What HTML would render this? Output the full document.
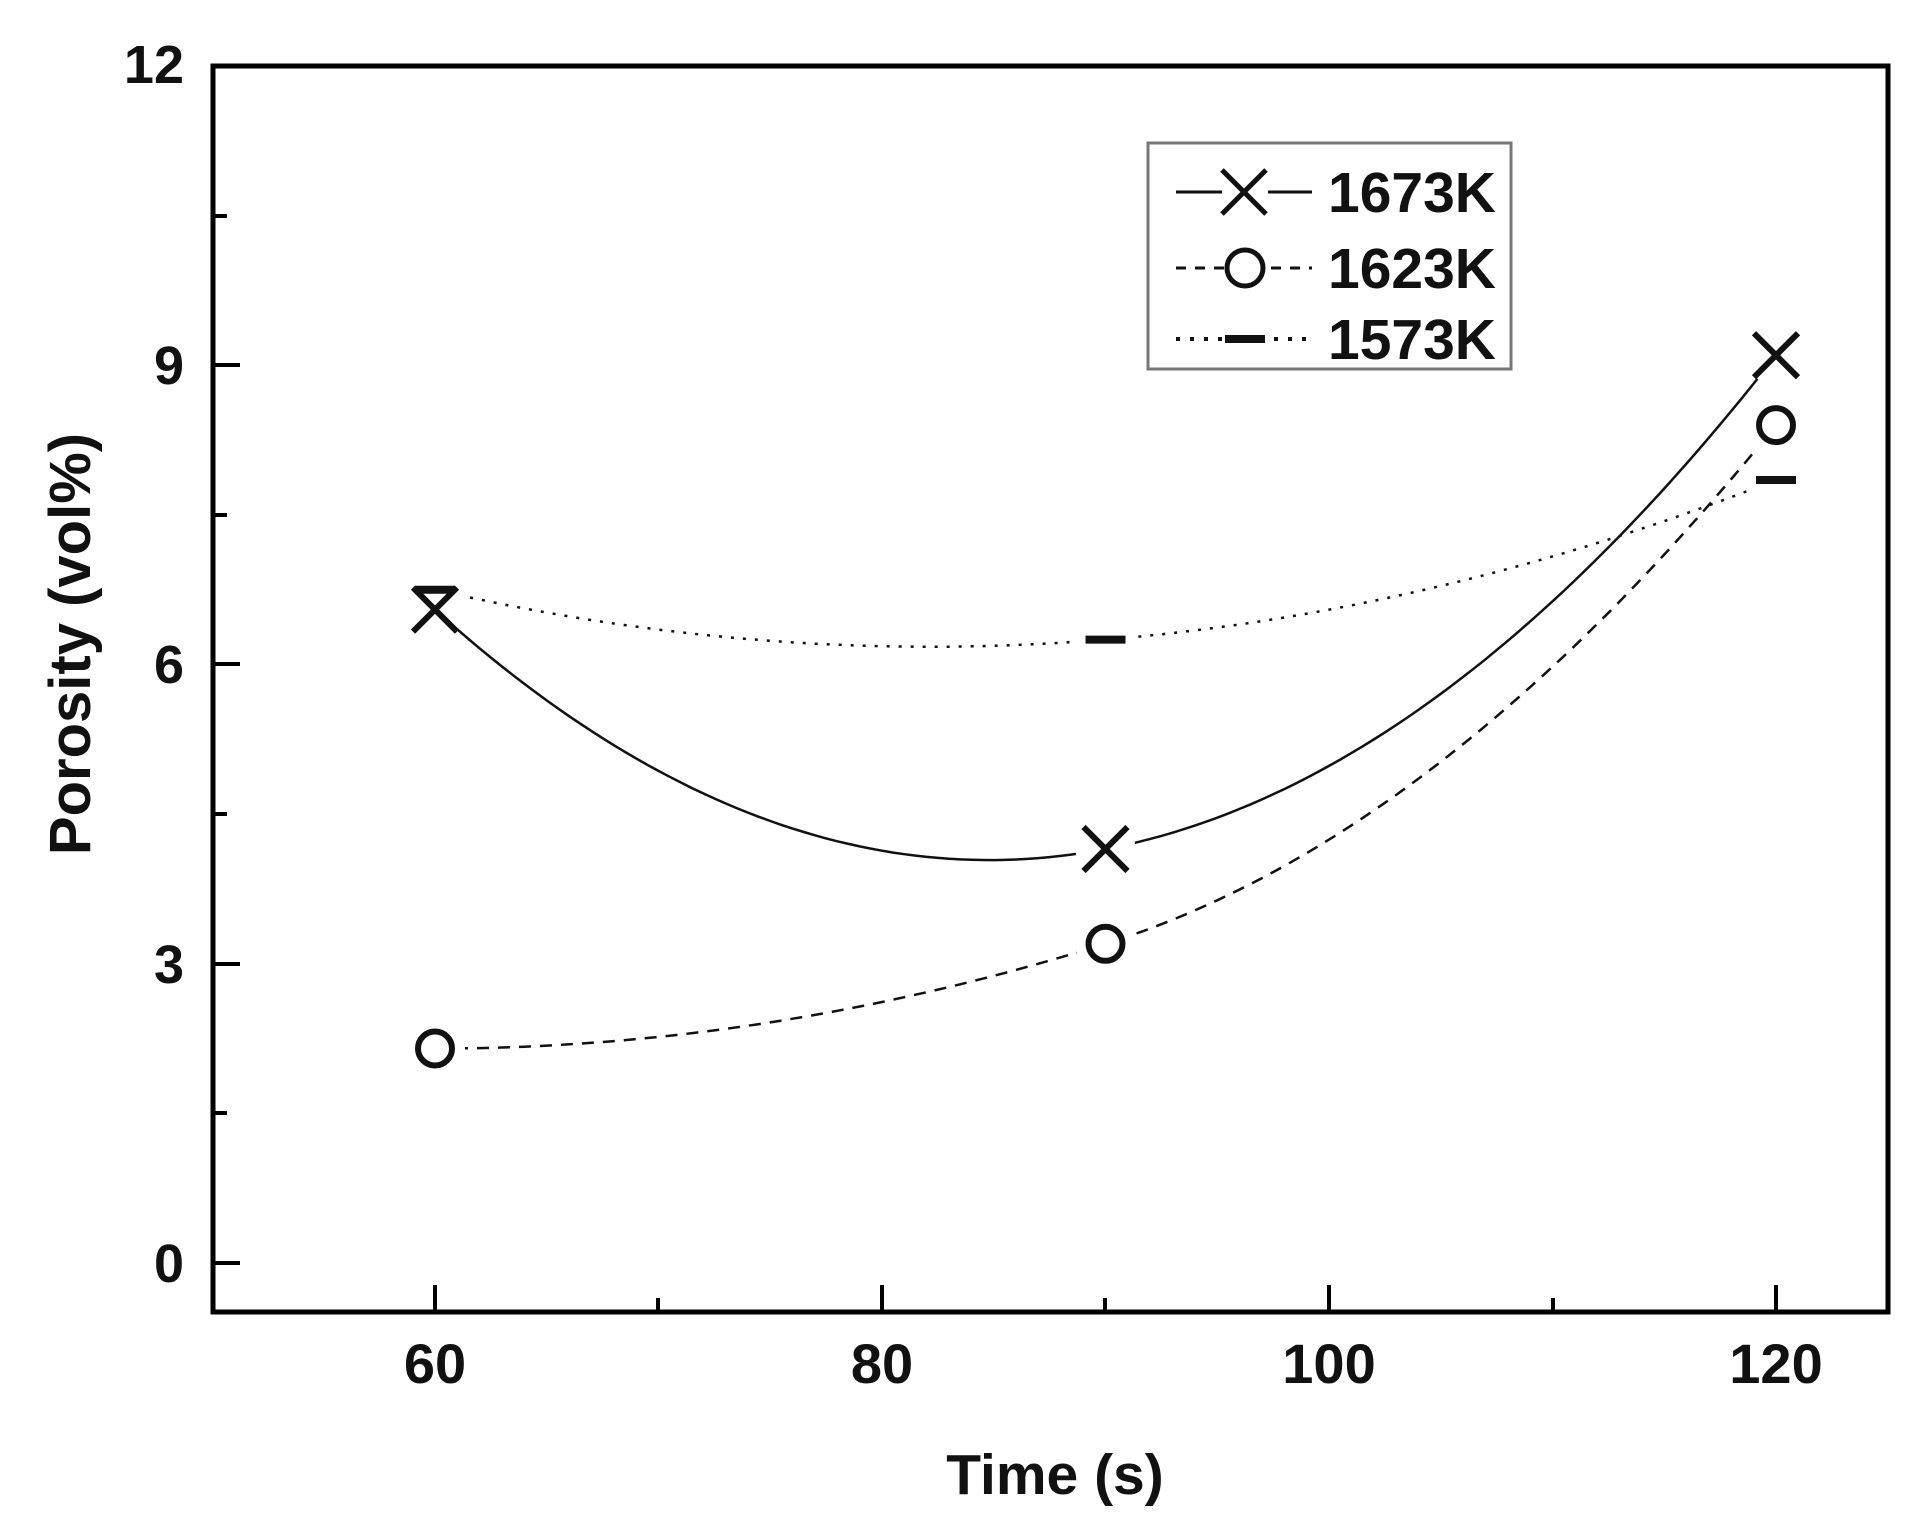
<!DOCTYPE html>
<html><head><meta charset="utf-8"><style>
html,body{margin:0;padding:0;background:#fff;}
svg{display:block;}
text{font-family:"Liberation Sans",Arial,sans-serif;font-weight:bold;fill:#111;}
</style></head><body>
<svg id="s" width="1931" height="1535" viewBox="0 0 1931 1535" xmlns="http://www.w3.org/2000/svg">
<rect width="1931" height="1535" fill="#fff"/>
<g id="curves" fill="none" stroke="#111"></g>
<g id="marks"></g>
<rect x="213" y="66" width="1675" height="1246" fill="none" stroke="#000" stroke-width="5"/>
<g stroke="#000" stroke-width="4">
<line x1="435" y1="1312" x2="435" y2="1285"/><line x1="882" y1="1312" x2="882" y2="1285"/>
<line x1="1329" y1="1312" x2="1329" y2="1285"/><line x1="1776" y1="1312" x2="1776" y2="1285"/>
<line x1="658" y1="1312" x2="658" y2="1298"/><line x1="1105" y1="1312" x2="1105" y2="1298"/><line x1="1553" y1="1312" x2="1553" y2="1298"/>
<line x1="213" y1="1263" x2="240" y2="1263"/><line x1="213" y1="964" x2="240" y2="964"/>
<line x1="213" y1="664" x2="240" y2="664"/><line x1="213" y1="365" x2="240" y2="365"/>
<line x1="213" y1="1113" x2="227" y2="1113"/><line x1="213" y1="814" x2="227" y2="814"/>
<line x1="213" y1="515" x2="227" y2="515"/><line x1="213" y1="216" x2="227" y2="216"/>
</g>
<g font-size="56" text-anchor="middle">
<text x="435" y="1383">60</text><text x="882" y="1383">80</text>
<text x="1329" y="1383">100</text><text x="1776" y="1383">120</text>
</g>
<g font-size="54" text-anchor="end">
<text x="184" y="1282">0</text><text x="184" y="983">3</text>
<text x="184" y="683">6</text><text x="184" y="384">9</text><text x="184" y="83">12</text>
</g>
<text x="1055" y="1494" font-size="57" text-anchor="middle">Time (s)</text>
<text transform="translate(90,644) rotate(-90)" font-size="58" text-anchor="middle">Porosity (vol%)</text>
<rect x="1148" y="143" width="363" height="226" fill="#fff" stroke="#777" stroke-width="3"/>
<g stroke="#111">
<line x1="1176" y1="192" x2="1222" y2="192" stroke-width="3"/><line x1="1268" y1="192" x2="1312" y2="192" stroke-width="3"/>
<line x1="1222" y1="170" x2="1266" y2="214" stroke-width="5"/><line x1="1266" y1="170" x2="1222" y2="214" stroke-width="5"/>
<line x1="1176" y1="268" x2="1312" y2="268" stroke-width="3" stroke-dasharray="10,9"/>
<circle cx="1245" cy="268" r="18" fill="#fff" stroke-width="5"/>
<line x1="1176" y1="339" x2="1312" y2="339" stroke-width="4" stroke-dasharray="4,10"/>
<line x1="1225" y1="339" x2="1265" y2="339" stroke-width="8"/>
</g>
<g font-size="57" text-anchor="start">
<text x="1328" y="212">1673K</text><text x="1328" y="288">1623K</text><text x="1328" y="359">1573K</text>
</g>
</svg>
<script>
var X=function(t){return 435+(t-60)*22.35;},Y=function(v){return 1263-v*99.75;};
function quad(p){var xs=[60,90,120];return function(t){var s=0;for(var i=0;i<3;i++){var l=1;for(var j=0;j<3;j++)if(j!=i)l*=(t-xs[j])/(xs[i]-xs[j]);s+=l*p[i];}return s;};}
function f1623(t){if(t<=90){var a=(3.2-2.15)/900;return 2.15+a*(t-60)*(t-60);}var d=t-90;return 3.2+0.07*d+0.003444*d*d;}
var series=[{f:quad([6.55,4.15,9.1]),p:[6.55,4.15,9.1],dash:"",w:2.5,m:"x"},{f:f1623,p:[2.15,3.2,8.4],dash:"12,9",w:2.5,m:"o"},{f:quad([6.75,6.25,7.85]),p:[6.75,6.25,7.85],dash:"3,9",w:2.5,m:"-"}];
var ns="http://www.w3.org/2000/svg",cg=document.getElementById("curves"),mg=document.getElementById("marks");
function el(n,a,par){var e=document.createElementNS(ns,n);for(var k in a)e.setAttribute(k,a[k]);par.appendChild(e);return e;}
series.forEach(function(s){var f=s.f,d="";for(var t=60;t<=120.01;t+=0.5){d+=(t==60?"M":"L")+X(t).toFixed(1)+","+Y(f(t)).toFixed(1);}
var a={d:d,"stroke-width":s.w};if(s.dash)a["stroke-dasharray"]=s.dash;el("path",a,cg);});
series.forEach(function(s){[60,90,120].forEach(function(t,i){var x=X(t),y=Y(s.p[i]);el("circle",{cx:x,cy:y,r:30,fill:"#fff"},mg);});});
series.forEach(function(s){[60,90,120].forEach(function(t,i){var x=X(t),y=Y(s.p[i]);
if(s.m=="x"){el("path",{d:"M"+(x-22)+","+(y-22)+"L"+(x+22)+","+(y+22)+"M"+(x+22)+","+(y-22)+"L"+(x-22)+","+(y+22),stroke:"#111","stroke-width":6},mg);}
else if(s.m=="o"){el("circle",{cx:x,cy:y,r:17,fill:"none",stroke:"#111","stroke-width":6},mg);}
else{el("line",{x1:x-20,y1:y,x2:x+20,y2:y,stroke:"#111","stroke-width":8},mg);}});});
</script>
</body></html>
